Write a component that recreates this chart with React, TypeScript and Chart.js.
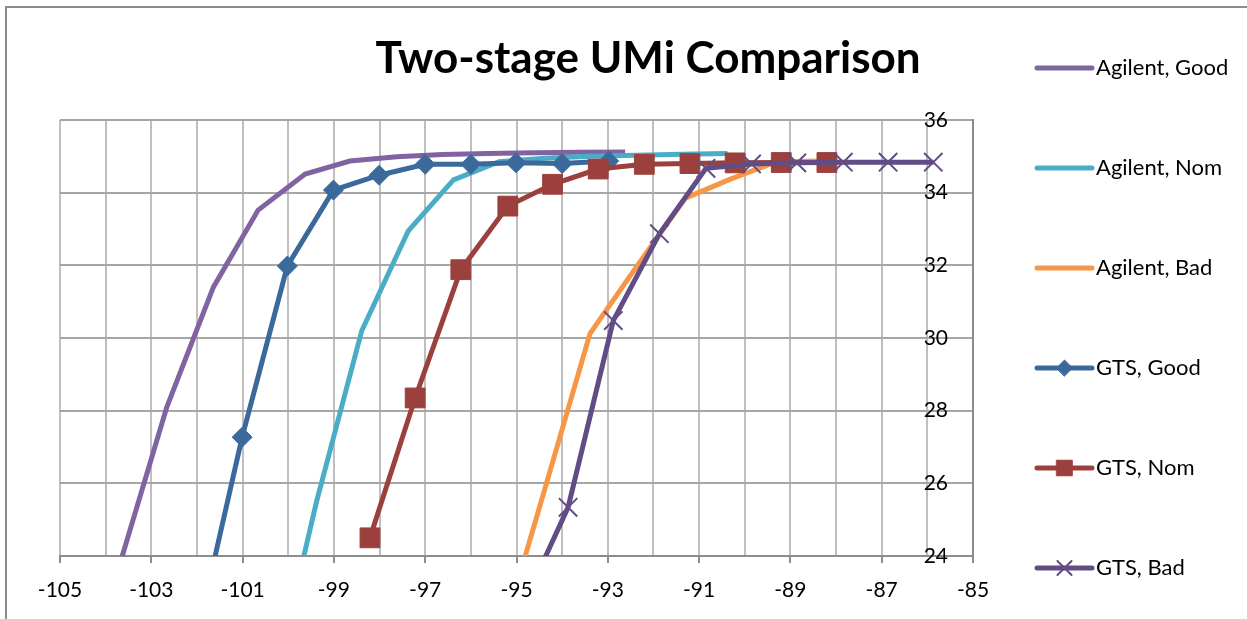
import React, { useEffect, useRef } from 'react';
import { Chart, registerables } from 'chart.js';
import { drawPoint } from 'chart.js/helpers';

Chart.register(...registerables);

const chartTitle = 'Two-stage UMi Comparison';
const seriesNames = ['Agilent, Good', 'Agilent, Nom', 'Agilent, Bad', 'GTS, Good', 'GTS, Nom', 'GTS, Bad'];

const agilentGoodX = [-103.66, -102.66, -101.64, -100.66, -99.63, -98.65, -97.62, -96.62, -95.62, -94.62, -93.62, -92.62];
const agilentGoodY = [23.9, 28.1, 31.4, 33.52, 34.51, 34.87, 34.99, 35.05, 35.08, 35.1, 35.11, 35.12];

const agilentNomX = [-100.38, -99.38, -98.39, -97.37, -96.38, -95.38, -94.38, -93.38, -92.38, -91.38, -90.38];
const agilentNomY = [20.1, 25.5, 30.2, 32.95, 34.35, 34.85, 34.95, 35.0, 35.03, 35.06, 35.08];

const agilentBadX = [-95.39, -94.39, -93.39, -92.35, -91.3, -90.3, -89.3, -88.3];
const agilentBadY = [21.5, 25.8, 30.12, 32.0, 33.85, 34.38, 34.85, 34.87];

const gtsGoodX = [-102.0, -101.01, -100.02, -99.01, -98.01, -97.0, -96.0, -95.01, -94.0, -92.98];
const gtsGoodY = [21.8, 27.27, 31.98, 34.07, 34.48, 34.78, 34.78, 34.82, 34.8, 34.87];

const gtsNomX = [-98.21, -97.22, -96.22, -95.19, -94.21, -93.21, -92.2, -91.2, -90.21, -89.2, -88.2];
const gtsNomY = [24.5, 28.35, 31.88, 33.63, 34.23, 34.65, 34.78, 34.8, 34.82, 34.83, 34.83];

const gtsBadX = [-94.87, -93.87, -92.88, -91.87, -90.85, -89.85, -88.86, -87.84, -86.86, -85.87];
const gtsBadY = [22.6, 25.34, 30.48, 32.87, 34.67, 34.79, 34.82, 34.84, 34.84, 34.84];

const xMin = -105;
const xMax = -85;
const yMin = 24;
const yMax = 36;
const yStep = 2;

const seriesX = [agilentGoodX, agilentNomX, agilentBadX, gtsGoodX, gtsNomX, gtsBadX];
const seriesY = [agilentGoodY, agilentNomY, agilentBadY, gtsGoodY, gtsNomY, gtsBadY];
const seriesColors = ['#8064A2', '#4BACC6', '#F79646', '#3C699C', '#9C403D', '#624C86'];
const seriesMarkers: (string | false)[] = [false, false, false, 'rectRot', 'rect', 'crossRot'];
const markerRadius = [0, 0, 0, 10, 14, 13];
const legendMarkerRadius = [0, 0, 0, 8, 11, 10];

const FONT = 'Lato';

const sideLegend = {
  id: 'sideLegend',
  afterDraw(chart: any) {
    const ctx = chart.ctx;
    const area = chart.chartArea;
    const lineStart = area.right + 64;
    const lineEnd = lineStart + 55;
    const textX = lineEnd + 4;
    const firstY = 68;
    const step = 100;
    ctx.save();
    chart.data.datasets.forEach((ds: any, i: number) => {
      const y = firstY + i * step;
      ctx.strokeStyle = ds.borderColor;
      ctx.lineWidth = 5;
      ctx.lineCap = 'round';
      ctx.beginPath();
      ctx.moveTo(lineStart, y);
      ctx.lineTo(lineEnd, y);
      ctx.stroke();
      if (seriesMarkers[i]) {
        ctx.fillStyle = ds.borderColor;
        ctx.strokeStyle = ds.borderColor;
        ctx.lineWidth = ds.pointBorderWidth;
        drawPoint(ctx, { pointStyle: seriesMarkers[i], radius: legendMarkerRadius[i], rotation: 0, borderWidth: ds.pointBorderWidth } as any, (lineStart + lineEnd) / 2, y);
      }
      ctx.fillStyle = '#000';
      ctx.font = `22px ${FONT}`;
      ctx.textAlign = 'left';
      ctx.textBaseline = 'middle';
      ctx.fillText(seriesNames[i], textX, y);
    });
    ctx.restore();
  },
};

export default function App() {
  const canvasRef = useRef<HTMLCanvasElement | null>(null);

  useEffect(() => {
    const canvas = canvasRef.current;
    if (!canvas) return;
    const datasets = seriesNames.map((name, i) => ({
      label: name,
      data: seriesX[i].map((x, j) => ({ x, y: seriesY[i][j] })),
      showLine: true,
      borderColor: seriesColors[i],
      backgroundColor: seriesColors[i],
      borderWidth: 5,
      tension: 0,
      pointStyle: seriesMarkers[i] || 'circle',
      pointRadius: markerRadius[i],
      pointHoverRadius: markerRadius[i],
      pointBackgroundColor: seriesColors[i],
      pointBorderColor: seriesColors[i],
      pointBorderWidth: i === 5 ? 2 : 1,
      order: seriesNames.length - i,
    }));

    const chart = new Chart(canvas, {
      type: 'scatter',
      data: { datasets },
      plugins: [sideLegend],
      options: {
        animation: false,
        responsive: false,
        devicePixelRatio: 1,
        layout: { padding: { left: 60, right: 11, top: 0, bottom: 0 } },
        plugins: {
          legend: { display: false },
          tooltip: { enabled: false },
          title: {
            display: true,
            text: chartTitle,
            color: '#000',
            font: { family: FONT, size: 44, weight: 'bold', lineHeight: 1.2 },
            padding: { top: 32, bottom: 35.2 },
          },
        },
        scales: {
          x: {
            type: 'linear',
            min: xMin,
            max: xMax,
            ticks: {
              stepSize: 1,
              autoSkip: false,
              maxRotation: 0,
              color: '#000',
              font: { family: FONT, size: 21 },
              padding: 15,
              callback: (v: any) => (Math.round(Number(v)) % 2 !== 0 ? String(v) : ''),
            },
            grid: {
              color: '#BFBFBF',
              lineWidth: 2,
              tickLength: 7,
              tickWidth: 2,
              tickColor: (c: any) => (c.tick && Math.round(c.tick.value) % 2 !== 0 ? '#8C8C8C' : 'rgba(0,0,0,0)'),
            },
            border: { display: true, color: '#8C8C8C', width: 2 },
            afterFit: (s: any) => {
              s.height = 63;
            },
          },
          y: {
            type: 'linear',
            position: 'right',
            min: yMin,
            max: yMax,
            ticks: {
              stepSize: yStep,
              mirror: true,
              padding: -25,
              color: '#000',
              font: { family: FONT, size: 21 },
            },
            grid: { color: '#A6A6A6', lineWidth: 2, drawTicks: false },
            border: { display: true, color: '#8C8C8C', width: 2 },
            afterFit: (s: any) => {
              s.width = 263;
            },
          },
        },
      } as any,
    });
    return () => chart.destroy();
  }, []);

  return (
    <div style={{ position: 'fixed', left: 0, top: 0, width: 1247, height: 619, background: '#fff', overflow: 'hidden' }}>
      <div style={{ position: 'absolute', left: 5, top: 6, width: 1300, height: 700, border: '2px solid #8C8C8C' }} />
      <canvas ref={canvasRef} width={1247} height={619} style={{ position: 'absolute', left: 0, top: 0, width: 1247, height: 619 }} />
    </div>
  );
}
